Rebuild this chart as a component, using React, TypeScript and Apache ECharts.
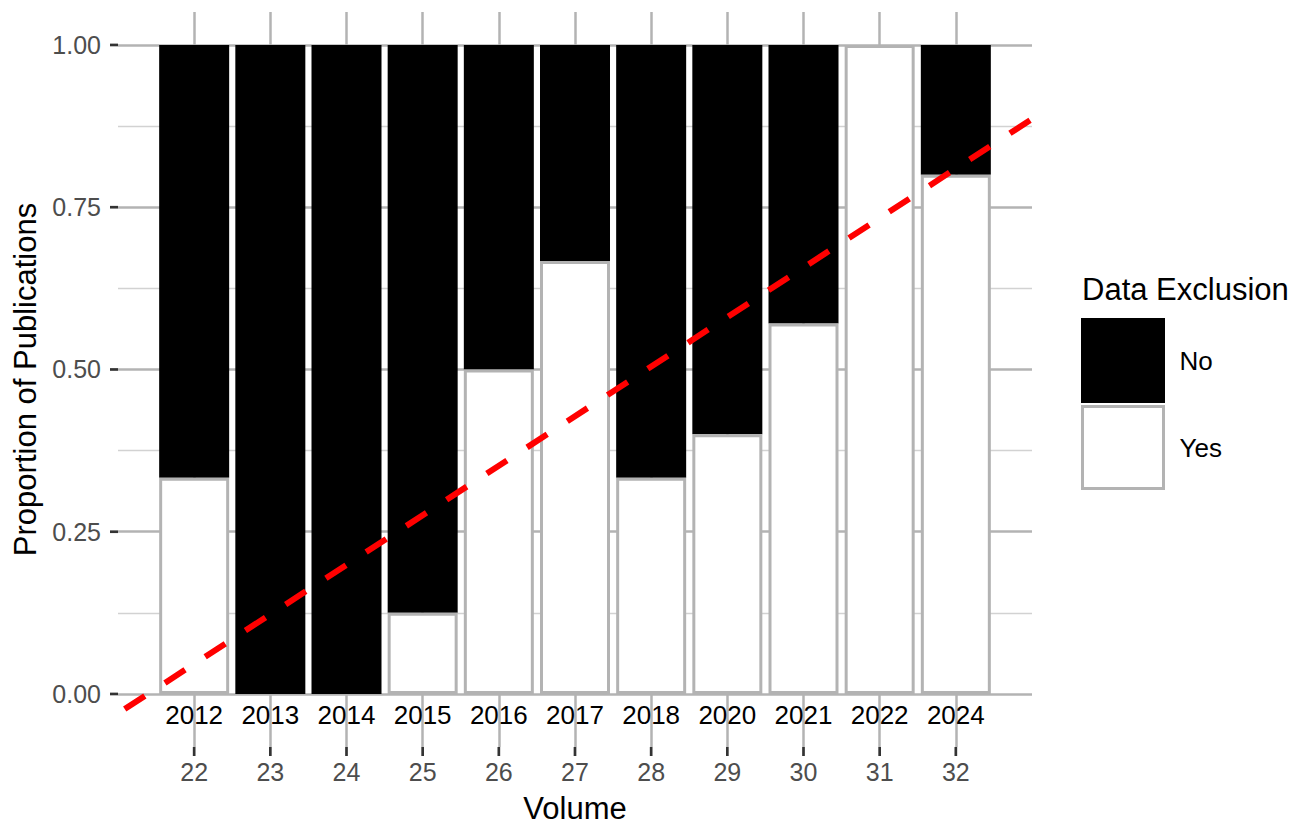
import React, { useEffect, useRef } from "react";
import * as echarts from "echarts";

const volumes = [22, 23, 24, 25, 26, 27, 28, 29, 30, 31, 32];
const years = ["2012", "2013", "2014", "2015", "2016", "2017", "2018", "2020", "2021", "2022", "2024"];
const yesShare = [0.333, 0, 0, 0.125, 0.5, 0.667, 0.333, 0.4, 0.571, 1, 0.8];
const noShare = [0.667, 1, 1, 0.875, 0.5, 0.333, 0.667, 0.6, 0.429, 0, 0.2];
const trendVolume = [21, 33];
const trendShare = [-0.03, 0.886];
const majorTicks = [0, 0.25, 0.5, 0.75, 1];
const minorTicks = [0.125, 0.375, 0.625, 0.875];

const FONT = "'Liberation Sans', Arial, Helvetica, sans-serif";
const Y_MIN = -0.0817;
const Y_MAX = 1.0508;
const TICK_COLOR = "#333333";

export default function App() {
  const ref = useRef<HTMLDivElement>(null);
  useEffect(() => {
    const chart = echarts.init(ref.current as HTMLDivElement, null, { renderer: "svg" });
    const nz = (v: number) => (v === 0 ? null : v);
    // category positions: the x extent (first/last trend volume) plus every volume
    const xCats = [trendVolume[0], ...volumes, trendVolume[1]].map(String);
    const isVolume = (idx: number) => idx > 0 && idx < xCats.length - 1;
    chart.setOption({
      animation: false,
      backgroundColor: "#ffffff",
      textStyle: { fontFamily: FONT },
      title: {
        text: "Data Exclusion",
        left: 1082,
        top: 274,
        padding: 0,
        textStyle: { fontFamily: FONT, fontSize: 31, fontWeight: "normal", color: "#000000" },
      },
      legend: {
        data: [
          { name: "No", itemStyle: { color: "#000000", borderColor: "#000000", borderWidth: 3 } },
          { name: "Yes", itemStyle: { color: "#ffffff", borderColor: "#b3b3b3", borderWidth: 3 } },
        ],
        orient: "vertical",
        left: 1081,
        top: 318,
        padding: 0,
        itemWidth: 81,
        itemHeight: 82,
        itemGap: 2,
        icon: "rect",
        selectedMode: false,
        textStyle: { fontFamily: FONT, fontSize: 26, color: "#000000", padding: [0, 0, 0, 11] },
      },
      grid: { left: 118, top: 12, width: 914, height: 735, containLabel: false, outerBoundsMode: "none" },
      xAxis: [
        {
          type: "category",
          data: xCats,
          boundaryGap: false,
          name: "Volume",
          nameLocation: "middle",
          nameGap: 45.5,
          nameTextStyle: { fontFamily: FONT, fontSize: 31, color: "#000000" },
          axisLine: { show: false },
          axisTick: { show: false },
          axisLabel: {
            interval: (i: number) => isVolume(i),
            fontFamily: FONT,
            fontSize: 25,
            lineHeight: 25,
            color: "#4d4d4d",
            margin: 12.5,
          },
          splitLine: { show: true, interval: (i: number) => isVolume(i), lineStyle: { color: "#b3b3b3", width: 2.5 } },
        },
        {
          type: "category",
          data: xCats,
          boundaryGap: false,
          position: "bottom",
          offset: -53,
          axisLine: { show: false },
          axisTick: { show: false },
          splitLine: { show: false },
          axisLabel: {
            interval: (i: number) => isVolume(i),
            formatter: (v: string) => {
              const i = volumes.indexOf(Number(v));
              return i >= 0 ? years[i] : "";
            },
            fontFamily: FONT,
            fontSize: 26,
            lineHeight: 26,
            color: "#000000",
            margin: 7.5,
          },
        },
      ],
      yAxis: [
        {
          type: "value",
          min: Y_MIN,
          max: Y_MAX,
          position: "left",
          name: "Proportion of Publications",
          nameLocation: "middle",
          nameGap: 75.5,
          nameTextStyle: { fontFamily: FONT, fontSize: 31, color: "#000000" },
          axisLine: { show: false },
          axisTick: { show: false, customValues: majorTicks },
          axisLabel: {
            customValues: majorTicks,
            formatter: (v: number) => v.toFixed(2),
            fontFamily: FONT,
            fontSize: 25,
            color: "#4d4d4d",
            margin: 17,
          },
          splitLine: { show: true, lineStyle: { color: "#b3b3b3", width: 2.5 } },
        },
        {
          type: "value",
          min: Y_MIN,
          max: Y_MAX,
          position: "left",
          axisLine: { show: false },
          axisTick: { show: false, customValues: minorTicks },
          axisLabel: { show: false, customValues: minorTicks },
          splitLine: { show: true, lineStyle: { color: "#d2d2d2", width: 1.3 } },
        },
      ],
      series: [
        {
          name: "Yes",
          type: "bar",
          stack: "share",
          xAxisIndex: 0,
          yAxisIndex: 0,
          barWidth: 70,
          z: 3,
          data: volumes.map((v, i) => [String(v), nz(yesShare[i])]),
          itemStyle: { color: "#ffffff", borderColor: "#b3b3b3", borderWidth: 3 },
        },
        {
          name: "No",
          type: "bar",
          stack: "share",
          xAxisIndex: 0,
          yAxisIndex: 0,
          barWidth: 70,
          z: 2,
          data: volumes.map((v, i) => [String(v), nz(noShare[i])]),
          itemStyle: { color: "#000000", borderColor: "#000000", borderWidth: 3 },
        },
        {
          name: "trend",
          type: "line",
          xAxisIndex: 0,
          yAxisIndex: 0,
          symbol: "none",
          silent: true,
          z: 5,
          data: trendVolume.map((v, i) => [String(v), trendShare[i]]),
          lineStyle: { color: "#ff0000", width: 6, type: [24, 24], dashOffset: 39.6, cap: "butt" },
        },
        {
          name: "xTicks",
          type: "custom",
          xAxisIndex: 0,
          yAxisIndex: 0,
          silent: true,
          clip: false,
          z: 6,
          data: volumes.map((v) => [String(v), Y_MIN]),
          renderItem: (params: any, api: any) => {
            const p = api.coord([api.value(0), api.value(1)]);
            return {
              type: "line",
              shape: { x1: p[0], y1: p[1], x2: p[0], y2: p[1] + 9 },
              style: { stroke: TICK_COLOR, lineWidth: 2.7 },
            };
          },
        },
        {
          name: "yTicks",
          type: "custom",
          xAxisIndex: 0,
          yAxisIndex: 0,
          silent: true,
          clip: false,
          z: 6,
          data: majorTicks.map((t) => [xCats[0], t]),
          renderItem: (params: any, api: any) => {
            const p = api.coord([api.value(0), api.value(1)]);
            return {
              type: "line",
              shape: { x1: p[0] - 8, y1: p[1], x2: p[0], y2: p[1] },
              style: { stroke: TICK_COLOR, lineWidth: 2.7 },
            };
          },
        },
      ],
    });
    return () => chart.dispose();
  }, []);
  return (
    <div
      ref={ref}
      style={{ position: "absolute", left: 0, top: 0, width: 1299, height: 837, background: "#fff" }}
    />
  );
}
